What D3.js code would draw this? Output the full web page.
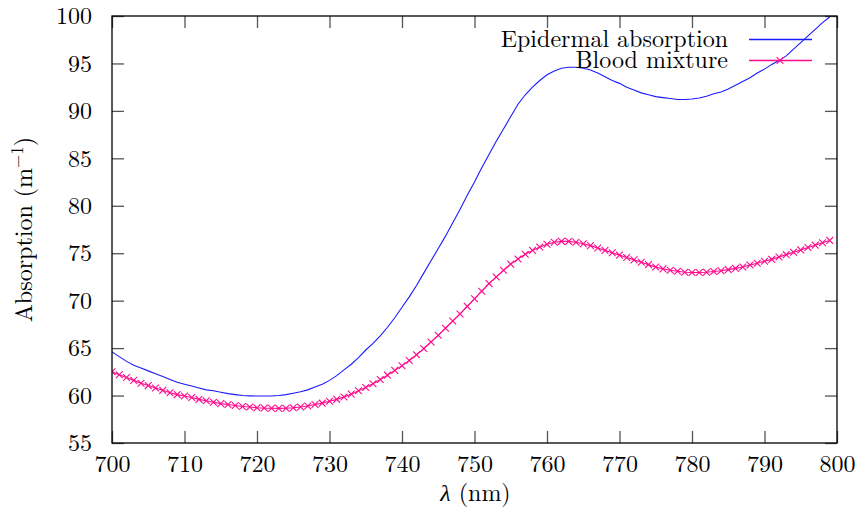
<!DOCTYPE html>
<html>
<head>
<meta charset="utf-8">
<script src="https://cdn.jsdelivr.net/npm/d3@7/dist/d3.min.js"></script>
<style>
  html, body { margin: 0; padding: 0; background: #fff; }
</style>
</head>
<body>
<svg id="chart" width="857" height="512"></svg>
<script>
// Wavelengths sampled every nanometre, 700–799 nm
const wavelengths = d3.range(700, 800);

// Epidermal absorption (m^-1)
const epidermal = [
  64.6, 64.1, 63.6, 63.2, 62.9, 62.6, 62.3, 62.0, 61.7, 61.4,
  61.2, 61.0, 60.8, 60.6, 60.5, 60.35, 60.2, 60.1, 60.0, 59.97,
  59.95, 59.95, 59.96, 60.0, 60.1, 60.25, 60.4, 60.6, 60.9, 61.2,
  61.6, 62.1, 62.7, 63.3, 64.0, 64.8, 65.5, 66.3, 67.2, 68.2,
  69.3, 70.4, 71.6, 72.9, 74.2, 75.5, 76.8, 78.2, 79.6, 81.1,
  82.5, 84.0, 85.4, 86.8, 88.1, 89.4, 90.7, 91.7, 92.5, 93.2,
  93.8, 94.2, 94.5, 94.6, 94.6, 94.5, 94.3, 94.0, 93.6, 93.2,
  92.9, 92.5, 92.2, 91.9, 91.7, 91.5, 91.4, 91.3, 91.2, 91.2,
  91.25, 91.35, 91.55, 91.8, 92.0, 92.3, 92.7, 93.1, 93.5, 94.0,
  94.4, 94.9, 95.3, 95.8, 96.5, 97.2, 97.9, 98.6, 99.3, 99.9
];

// Blood mixture absorption (m^-1)
const blood = [
  62.5, 62.2, 61.9, 61.6, 61.3, 61.05, 60.8, 60.55, 60.3, 60.1,
  59.95, 59.8, 59.6, 59.45, 59.3, 59.15, 59.05, 58.95, 58.85, 58.8,
  58.72, 58.68, 58.66, 58.65, 58.67, 58.72, 58.8, 58.9, 59.05, 59.2,
  59.4, 59.6, 59.85, 60.15, 60.5, 60.85, 61.25, 61.7, 62.15, 62.65,
  63.15, 63.7, 64.3, 64.95, 65.65, 66.35, 67.1, 67.85, 68.6, 69.4,
  70.2, 71.0, 71.8, 72.5, 73.2, 73.85, 74.4, 74.9, 75.3, 75.65,
  75.95, 76.15, 76.25, 76.25, 76.15, 76.0, 75.8, 75.55, 75.3, 75.05,
  74.8, 74.55, 74.3, 74.05, 73.8, 73.55, 73.35, 73.2, 73.1, 73.0,
  72.97, 72.97, 73.0, 73.07, 73.15, 73.27, 73.4, 73.55, 73.75, 73.95,
  74.15, 74.35, 74.6, 74.85, 75.1, 75.35, 75.6, 75.85, 76.1, 76.35
];

const xTicks = [700, 710, 720, 730, 740, 750, 760, 770, 780, 790, 800];
const yTicks = [55, 60, 65, 70, 75, 80, 85, 90, 95, 100];
const seriesNames = ["Epidermal absorption", "Blood mixture"];

const svg = d3.select("#chart");
const frame = { left: 112, right: 837, top: 16, bottom: 443 };
const blue = "#1a1aff", pink = "#ff0a8c";
const serifFont = '"Latin Modern Roman"';

const x = d3.scaleLinear().domain([700, 800]).range([frame.left, frame.right]);
const y = d3.scaleLinear().domain([55, 100]).range([frame.bottom, frame.top]);

const tickLen = 12;
const fontSize = 24;

// Inward ticks on all four sides
const axisG = svg.append("g");
axisG.append("g")
  .attr("transform", `translate(0,${frame.bottom})`)
  .call(d3.axisBottom(x).tickValues(xTicks).tickSize(-tickLen).tickPadding(12).tickFormat(d3.format("d")))
  .call(g => g.select(".domain").remove());
axisG.append("g")
  .attr("transform", `translate(0,${frame.top})`)
  .call(d3.axisTop(x).tickValues(xTicks).tickSize(-tickLen).tickFormat(""))
  .call(g => g.select(".domain").remove());
axisG.append("g")
  .attr("transform", `translate(${frame.left},0)`)
  .call(d3.axisLeft(y).tickValues(yTicks).tickSize(-tickLen).tickPadding(20).tickFormat(d3.format("d")))
  .call(g => g.select(".domain").remove());
axisG.append("g")
  .attr("transform", `translate(${frame.right},0)`)
  .call(d3.axisRight(y).tickValues(yTicks).tickSize(-tickLen).tickFormat(""))
  .call(g => g.select(".domain").remove());

axisG.selectAll(".tick line").attr("stroke", "#555").attr("stroke-width", 1.3);
axisG.selectAll(".tick text").attr("fill", "#000");

// Data clipped to the plot frame
svg.append("clipPath").attr("id", "plotClip")
  .append("rect").attr("x", frame.left).attr("y", frame.top)
  .attr("width", frame.right - frame.left).attr("height", frame.bottom - frame.top);

const plot = svg.append("g").attr("clip-path", "url(#plotClip)");

const line = d3.line().x((d, i) => x(wavelengths[i])).y(d => y(d));

plot.append("path").datum(epidermal)
  .attr("fill", "none").attr("stroke", blue).attr("stroke-width", 1.1).attr("d", line);

plot.append("path").datum(blood)
  .attr("fill", "none").attr("stroke", pink).attr("stroke-width", 1.1).attr("d", line);

const cross = 3.4;
const crossPath = (cx, cy) =>
  `M${cx - cross},${cy - cross}L${cx + cross},${cy + cross}M${cx - cross},${cy + cross}L${cx + cross},${cy - cross}`;

plot.append("g").selectAll("path")
  .data(blood)
  .join("path")
  .attr("d", (d, i) => crossPath(x(wavelengths[i]), y(d)))
  .attr("stroke", pink).attr("stroke-width", 1.1).attr("fill", "none");

// Frame
svg.append("rect")
  .attr("x", frame.left).attr("y", frame.top)
  .attr("width", frame.right - frame.left).attr("height", frame.bottom - frame.top)
  .attr("fill", "none").attr("stroke", "#000").attr("stroke-width", 1.3);

// Legend
const legend = svg.append("g");
const legendRows = [
  { name: seriesNames[0], color: blue, marker: false, yLine: 39.5 },
  { name: seriesNames[1], color: pink, marker: true, yLine: 60.5 }
];
legendRows.forEach(r => {
  legend.append("text")
    .attr("x", 728).attr("y", r.yLine + 7)
    .attr("text-anchor", "end")
    .text(r.name);
  legend.append("line")
    .attr("x1", 749).attr("x2", 812).attr("y1", r.yLine).attr("y2", r.yLine)
    .attr("stroke", r.color).attr("stroke-width", 1.3);
  if (r.marker) {
    legend.append("path").attr("d", crossPath(780, r.yLine))
      .attr("stroke", r.color).attr("stroke-width", 1.1).attr("fill", "none");
  }
});

// Axis titles
const xTitle = svg.append("text")
  .attr("x", (frame.left + frame.right) / 2 + 1).attr("y", 501)
  .attr("text-anchor", "middle");
xTitle.append("tspan").style("font-style", "italic").text("λ");
xTitle.append("tspan").text(" (nm)");

const yTitle = svg.append("text")
  .attr("transform", `translate(32,${(frame.top + frame.bottom) / 2}) rotate(-90)`)
  .attr("text-anchor", "middle");
yTitle.append("tspan").text("Absorption (m");
yTitle.append("tspan").attr("dy", -9).attr("class", "sup").text("−1");
yTitle.append("tspan").attr("dy", 9).text(")");

// One typeface for every label
svg.selectAll("text")
  .attr("font-family", null)
  .style("font-family", serifFont)
  .style("font-size", fontSize + "px")
  .attr("fill", "#000");
svg.selectAll("tspan.sup").style("font-size", "17px");
</script>
</body>
</html>
